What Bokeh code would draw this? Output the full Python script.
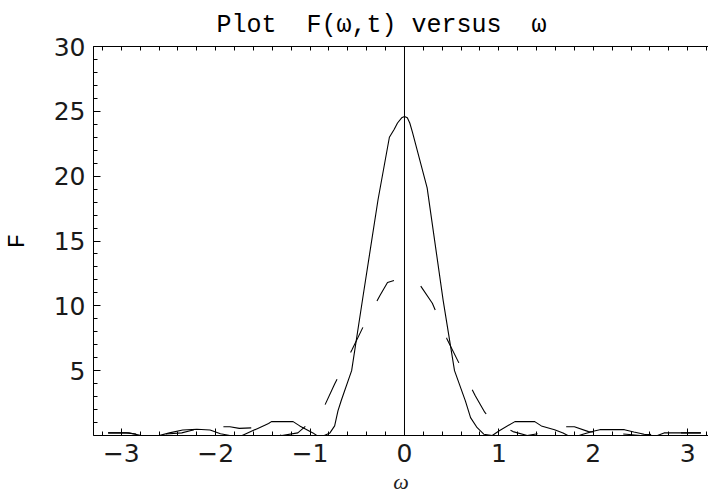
import numpy as np
from bokeh.plotting import figure
from bokeh.models import Range1d, LinearAxis, Span, FixedTicker
from bokeh.embed import file_html
from bokeh.resources import INLINE

# ---- data ----
omega_solid = [-3.14, -2.92, -2.79, -2.60, -2.49, -2.35, -2.20, -2.06, -1.95, -1.85,
               -1.72, -1.56, -1.44, -1.41, -1.18, -1.11, -0.97, -0.93, -0.85, -0.79,
               -0.74, -0.705, -0.67, -0.56, -0.44, -0.28, -0.16, -0.11, -0.074, -0.03,
               0.0, 0.03, 0.056, 0.084, 0.24, 0.41, 0.53, 0.645, 0.70, 0.77,
               0.84, 0.93, 1.00, 1.17, 1.38, 1.45, 1.59, 1.68, 1.73, 1.85,
               1.89, 2.01, 2.07, 2.33, 2.43, 2.54, 2.62, 2.68, 2.75, 2.93, 3.14]
F_solid = [0.2, 0.2, 0.0, 0.0, 0.2, 0.42, 0.48, 0.42, 0.14, 0.0,
           0.0, 0.53, 0.92, 1.07, 1.07, 0.74, 0.2, 0.0, 0.0, 0.2,
           0.74, 1.9, 2.7, 5.0, 10.7, 18.2, 23.0, 23.6, 24.1, 24.5,
           24.6, 24.5, 24.1, 23.4, 19.1, 10.4, 5.0, 2.67, 1.38, 0.6,
           0.1, 0.0, 0.35, 1.07, 1.07, 0.74, 0.45, 0.2, 0.0, 0.0,
           0.1, 0.35, 0.45, 0.45, 0.27, 0.1, 0.0, 0.0, 0.2, 0.2, 0.2]

omega_dashed = [-3.14, -2.95, -2.75, -2.55, -2.36, -2.25, -2.10, -1.95, -1.85, -1.75,
                -1.57, -1.44, -1.30, -1.13, -0.88, -0.74, -0.71, -0.555, -0.41, -0.26,
                -0.18, -0.05, 0.0, 0.10, 0.137, 0.295, 0.43, 0.45, 0.60, 0.75,
                0.85, 0.93, 0.99, 1.15, 1.30, 1.47, 1.58, 1.66, 1.80, 1.95,
                2.10, 2.20, 2.35, 2.50, 2.75, 2.95, 3.14]
F_dashed = [0.2, 0.2, 0.05, 0.1, 0.2, 0.4, 0.5, 0.68, 0.68, 0.55,
            0.6, 0.2, 0.0, 0.2, 1.77, 3.97, 4.4, 6.63, 8.8, 10.8,
            11.8, 12.1, 12.1, 12.0, 11.9, 10.2, 7.9, 7.45, 5.25, 3.06,
            1.8, 1.07, 0.87, 0.3, 0.0, 0.2, 0.6, 0.68, 0.68, 0.3,
            0.2, 0.2, 0.1, 0.0, 0.2, 0.2, 0.2]

x_ticks = [-3, -2, -1, 0, 1, 2, 3]
x_minor = [round(v, 1) for v in np.arange(-3.2, 3.21, 0.2)]
y_ticks = [5, 10, 15, 20, 25, 30]
y_minor = list(range(0, 31))

NB = "\u00a0"
title_text = "Plot" + NB * 2 + "F(\u03c9,t)" + NB + "versus" + NB * 2 + "\u03c9"
x_label = "\u03c9"
y_label = "F"

p = figure(width=708, height=496, output_backend="svg", toolbar_location=None,
           x_range=Range1d(-3.295, 3.221), y_range=Range1d(0, 30),
           min_border_left=89, min_border_right=0, min_border_top=46,
           min_border_bottom=61)
p.outline_line_color = None
p.grid.grid_line_color = None
p.background_fill_color = "white"
p.border_fill_color = "white"

p.title.text = title_text
p.title.text_font = "Liberation Mono"
p.title.text_font_size = "25px"
p.title.text_font_style = "normal"
p.title.text_color = "black"
p.title.align = "left"
p.title.offset = 123
p.title.standoff = 14


def style_axis(ax):
    ax.major_tick_in = 7
    ax.major_tick_out = 0
    ax.minor_tick_in = 4
    ax.minor_tick_out = 0
    ax.axis_line_color = "black"
    ax.major_tick_line_color = "black"
    ax.minor_tick_line_color = "black"
    ax.major_label_text_font = "DejaVu Sans"
    ax.major_label_text_font_size = "25px"
    ax.major_label_text_color = "#1a1a1a"


xaxis = p.xaxis[0]
xaxis.ticker = FixedTicker(ticks=x_ticks, minor_ticks=x_minor)
style_axis(xaxis)
xaxis.major_label_standoff = 8
xaxis.axis_label = x_label
xaxis.axis_label_text_font = "Liberation Serif"
xaxis.axis_label_text_font_style = "italic"
xaxis.axis_label_text_font_size = "22px"
xaxis.axis_label_text_color = "#222222"
xaxis.axis_label_standoff = 4

yaxis = p.yaxis[0]
yaxis.ticker = FixedTicker(ticks=y_ticks, minor_ticks=y_minor)
style_axis(yaxis)
yaxis.major_label_standoff = 8
yaxis.axis_label = y_label
yaxis.axis_label_text_font = "Liberation Mono"
yaxis.axis_label_text_font_style = "normal"
yaxis.axis_label_text_font_size = "24px"
yaxis.axis_label_text_color = "black"
yaxis.axis_label_standoff = 20

# top frame edge: only small inward ticks, no labels
topaxis = LinearAxis(ticker=FixedTicker(ticks=[], minor_ticks=x_minor))
topaxis.major_tick_in = 0
topaxis.major_tick_out = 0
topaxis.minor_tick_in = 4
topaxis.minor_tick_out = 0
topaxis.axis_line_color = "black"
topaxis.minor_tick_line_color = "black"
p.add_layout(topaxis, "above")

p.add_layout(Span(location=0, dimension="height", line_color="black", line_width=1))

p.line(omega_solid, F_solid, line_color="black", line_width=1.1)
p.line(omega_dashed, F_dashed, line_color="black", line_width=1.1, line_dash="28 30")

open("out.html", "w").write(file_html(p, INLINE))
